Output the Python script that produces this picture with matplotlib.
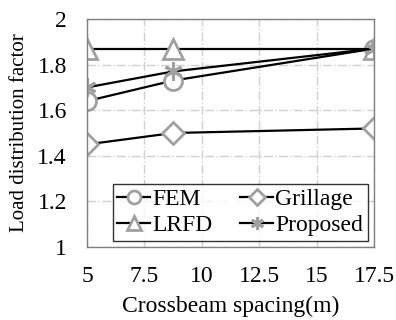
import matplotlib
matplotlib.use("Agg")
import matplotlib.pyplot as plt

x = [5, 8.75, 17.5]
fem = [1.64, 1.73, 1.87]
grillage = [1.45, 1.50, 1.52]
lrfd = [1.87, 1.87, 1.87]
proposed = [1.70, 1.77, 1.87]
xticks = [5, 7.5, 10, 12.5, 15, 17.5]
xticklabels = ["5", "7.5", "10", "12.5", "15", "17.5"]
yticks = [1, 1.2, 1.4, 1.6, 1.8, 2]
yticklabels = ["1", "1.2", "1.4", "1.6", "1.8", "2"]

plt.rcParams['font.family'] = ['Liberation Serif', 'DejaVu Serif']
fig = plt.figure(figsize=(3.96, 3.2), dpi=100)
ax = fig.add_axes([87/396, 1-247/320, (374-87)/396, (247-19)/320])

mc = '#a0a0a0'
common = dict(color='black', lw=1.6, markeredgecolor=mc, markerfacecolor='white', markeredgewidth=2)
l1, = ax.plot(x, fem, marker='o', ms=13, label='FEM', **common)
l2, = ax.plot(x, grillage, marker='D', ms=11.5, label='Grillage', **common)
l3, = ax.plot(x, lrfd, marker='^', ms=14, label='LRFD', **common)
l4, = ax.plot(x, proposed, marker=(6, 2, 0), ms=13, label='Proposed', color='black', lw=1.6,
              markeredgecolor=mc, markeredgewidth=2.2)

ax.set_xlim(5, 17.5)
ax.set_ylim(1, 2)
ax.set_xticks(xticks)
ax.set_xticklabels(xticklabels)
ax.set_yticks(yticks)
ax.set_yticklabels(yticklabels)
ax.tick_params(length=0, labelsize=17)
ax.tick_params(axis='x', pad=14)
ax.tick_params(axis='y', pad=14.5)
ax.grid(True, color='#d0d0d0', linestyle='-.', lw=1)
ax.set_axisbelow(True)
for s in ax.spines.values():
    s.set_color('#808080')
    s.set_linewidth(1)
ax.set_xlabel('Crossbeam spacing(m)', fontsize=17, labelpad=6)
ax.set_ylabel('Load distribution factor', fontsize=15, labelpad=6)
leg = ax.legend([l1, l3, l2, l4], ['FEM', 'LRFD', 'Grillage', 'Proposed'],
                ncol=2, loc='lower right', fontsize=17, frameon=True, fancybox=False,
                edgecolor='black', handlelength=1.4, handletextpad=0.1, columnspacing=1.15,
                borderpad=0.2, labelspacing=0.2, borderaxespad=0.25, markerscale=0.72)
leg.get_frame().set_linewidth(1)
fig.savefig('out.png', dpi=100)
